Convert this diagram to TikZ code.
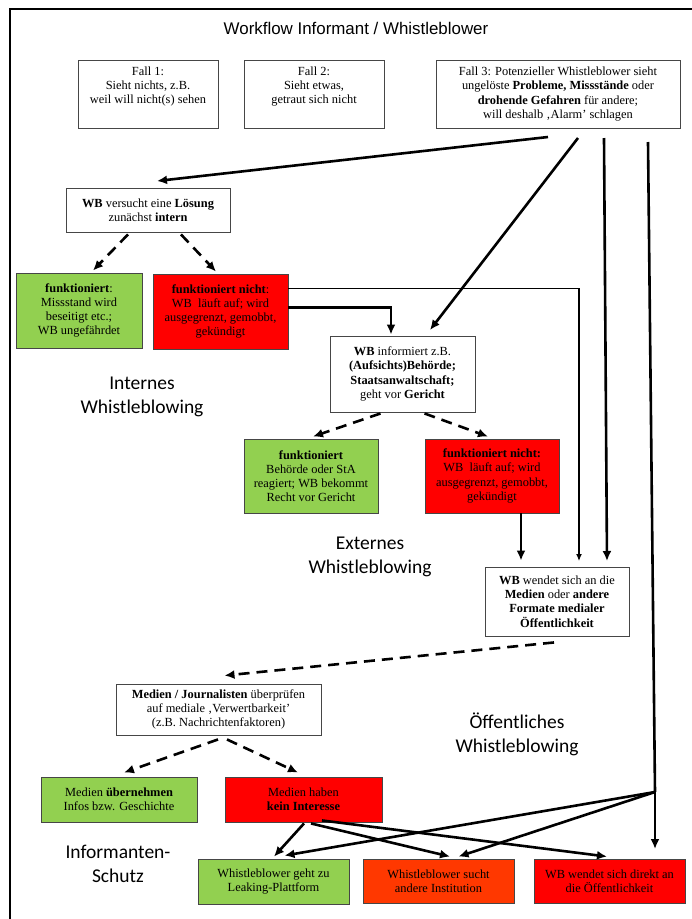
\documentclass[tikz,border=0pt]{standalone}
\usepackage{fontspec}
\setmainfont{Liberation Serif}
\newfontfamily\titlefont{Liberation Sans}
\newfontfamily\calfont{Carlito}
\usetikzlibrary{arrows.meta,calc}
\definecolor{wbgreen}{RGB}{146,208,80}
\definecolor{wbred}{RGB}{255,0,0}
\definecolor{wborange}{RGB}{255,56,0}
\definecolor{boxgray}{RGB}{70,70,70}
\newcommand\boxfont{\fontsize{12.4}{14.2}\selectfont}
\newcommand\lblfont{\calfont\fontsize{19.5}{24}\selectfont}
\tikzset{
  bx/.style={draw=boxgray, line width=0.9pt, inner sep=0pt, align=center, font=\boxfont},
  sz/.style 2 args={minimum width=#1, minimum height=#2},
  wbox/.style={bx, fill=white},
  gbox/.style={bx, fill=wbgreen},
  rbox/.style={bx, fill=wbred},
  obox/.style={bx, fill=wborange},
  thk/.style={line width=2.6pt, -{Latex[length=10pt,width=9pt]}},
  dsh/.style={thk, dash pattern=on 11pt off 7pt},
  thn/.style={line width=1.2pt, -{Latex[length=7pt,width=6pt]}},
  lbl/.style={font=\lblfont, align=center, inner sep=0pt},
}
\begin{document}
\begin{tikzpicture}[x=1pt,y=-1pt]
\fill[white] (0,0) rectangle (692,919);
\useasboundingbox (0,0) rectangle (692,919);
\draw[line width=1.4pt] (10,919) -- (10,9) -- (692,9);

\node[font=\titlefont\fontsize{16.9}{20}\selectfont, inner sep=0pt] (title) at (356,28) {Workflow Informant / Whistleblower};

% top row
\node[wbox, sz={140pt}{68pt}] (f1) at (148,94) {\parbox[c][55pt][t]{138pt}{\centering Fall 1:\\ Sieht nichts, z.B.\\ weil will nicht(s) sehen}};
\node[wbox, sz={140pt}{68pt}] (f2) at (314,94) {\parbox[c][55pt][t]{138pt}{\centering Fall 2:\\ Sieht etwas,\\ getraut sich nicht}};
\node[wbox, sz={244pt}{68pt}] (f3) at (558,94) {Fall 3: Potenzieller Whistleblower sieht\\ ungelöste \textbf{Probleme, Missstände} oder\\ \textbf{drohende Gefahren} für andere;\\ will deshalb ‚Alarm’ schlagen};

% internal
\node[wbox, sz={164pt}{44pt}] (lsg) at (148,210) {\textbf{WB} versucht eine \textbf{Lösung}\\ zunächst \textbf{intern}};
\node[gbox, sz={126pt}{75pt}] (ok1) at (79,310.5) {\textbf{funktioniert}:\\ Missstand wird\\ beseitigt etc.;\\ WB ungefährdet};
\node[rbox, sz={135pt}{75pt}] (nok1) at (220.5,311.5) {\textbf{funktioniert nicht}:\\ WB\ \ läuft auf; wird\\ ausgegrenzt, gemobbt,\\ gekündigt};

% external
\node[wbox, sz={145pt}{76pt}] (info) at (402.5,374) {\textbf{WB} informiert z.B.\\ \textbf{(Aufsichts)Behörde;}\\ \textbf{Staatsanwaltschaft;}\\ geht vor \textbf{Gericht}};
\node[gbox, sz={134pt}{74pt}] (ok2) at (311,476) {\textbf{funktioniert}\\ Behörde oder StA\\ reagiert; WB bekommt\\ Recht vor Gericht};
\node[rbox, sz={134pt}{74pt}] (nok2) at (492,476) {\textbf{funktioniert nicht:}\\ WB\ \ läuft auf; wird\\ ausgegrenzt, gemobbt,\\ gekündigt};

% public
\node[wbox, sz={144pt}{69pt}] (med) at (557,601.5) {\textbf{WB} wendet sich an die\\ \textbf{Medien} oder \textbf{andere}\\ \textbf{Formate medialer}\\ \textbf{Öffentlichkeit}};
\node[wbox, sz={205pt}{51pt}] (jour) at (218.5,709.5) {\textbf{Medien / Journalisten} überprüfen\\ auf mediale ‚Verwertbarkeit’\\ (z.B. Nachrichtenfaktoren)};
\node[gbox, sz={156pt}{45pt}] (ok3) at (119,799.5) {Medien \textbf{übernehmen}\\ Infos bzw. Geschichte};
\node[rbox, sz={157pt}{45pt}] (nok3) at (303.5,799.5) {Medien haben\\ \textbf{kein Interesse}};

% bottom row
\node[gbox, sz={151pt}{45pt}] (leak) at (273.5,881.5) {Whistleblower geht zu\\ Leaking-Plattform};
\node[obox, sz={151pt}{44pt}] (inst) at (438.5,881) {Whistleblower sucht\\ andere Institution};
\node[rbox, sz={151pt}{44pt}] (pub) at (609.5,881) {WB wendet sich direkt an\\ die Öffentlichkeit};

% labels
\node[lbl] (lint) at (142,397) {Internes\\ Whistleblowing};
\node[lbl] (lext) at (370,557) {Externes\\ Whistleblowing};
\node[lbl] (lpub) at (517,734) {Öffentliches\\ Whistleblowing};
\node[lbl] (lsch) at (118,864) {Informanten-\\ Schutz};

% free ends
\coordinate (a1s) at (548,137);
\coordinate (a1e) at (157,181);
\coordinate (a2s) at (578,138);
\coordinate (a2e) at (430,330);
\coordinate (a3s) at (604,138);
\coordinate (a3e) at (607,561);
\coordinate (a4s) at (648,142);
\coordinate (br) at (655,792);
\coordinate (a4e) at (655,849);
\coordinate (thinEnd) at (579,561);

% connectors from Fall 3
\draw[thk] (a1s) -- (a1e);
\draw[thk] (a2s) -- (a2e);
\draw[thk] (a3s) -- (a3e);
\draw[line width=2.6pt] (a4s) -- (br);
\draw[thk] (br) -- (a4e);
\draw[thk] (br) -- ($(leak.north)+(11,-3)$);
\draw[thk] (br) -- ($(inst.north)+(20,-2)$);

% internal
\draw[dsh] ($(lsg.south)+(-20,2)$) -- ($(ok1.north)+(14,-2)$);
\draw[dsh] ($(lsg.south)+(33,2)$) -- ($(nok1.north)+(-4.5,-2)$);
\draw[thn] ($(nok1.north east)+(0,15)$) -| (thinEnd);
\draw[line width=2.6pt, -{Latex[length=10pt,width=9pt]}] ($(nok1.north east)+(0,34)$) -| ($(info.north)+(-11.5,-1)$);

% external
\draw[dsh] ($(info.south)+(-22,1)$) -- ($(ok2.north)+(2,-2)$);
\draw[dsh] ($(info.south)+(22,1)$) -- ($(nok2.north)+(-4,-2)$);
\draw[thk] ($(nok2.south)+(29,0)$) -- ($(med.north)+(-36,-6)$);

% public
\draw[dsh] ($(med.south)+(-3,6)$) -- ($(jour.north)+(6,-8)$);
\draw[dsh] ($(jour.south)+(-0.5,4)$) -- ($(ok3.north)+(5,-4)$);
\draw[dsh] ($(jour.south)+(8.5,4)$) -- ($(nok3.north)+(-5.5,-4)$);
\draw[thk] ($(nok3.south)+(0.5,1)$) -- ($(leak.north)+(0.5,-2)$);
\draw[thk] ($(nok3.south)+(7.5,1)$) -- ($(inst.north)+(11.5,-2)$);
\draw[thk] ($(nok3.south)+(18.5,-2)$) -- ($(pub.north)+(-2.5,-2)$);
\end{tikzpicture}
\end{document}
